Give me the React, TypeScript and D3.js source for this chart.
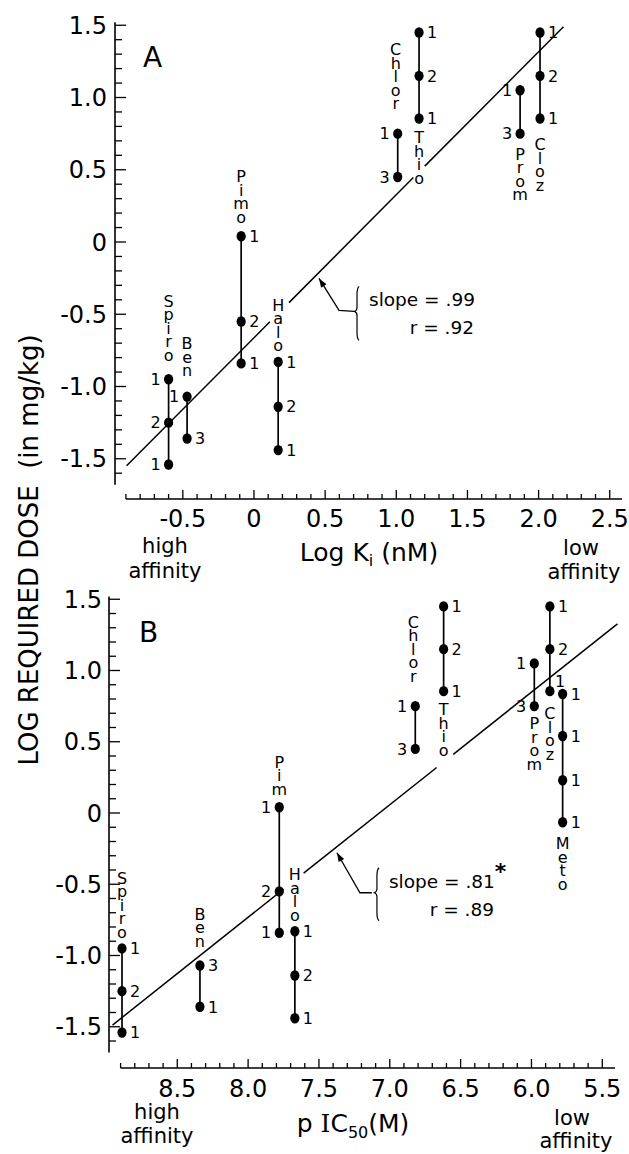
import React, { useEffect, useRef } from "react";
import * as d3 from "d3";

// drugs as labelled in each panel
const drugsA = ["Spiro", "Ben", "Pimo", "Halo", "Chlor", "Thio", "Prom", "Cloz"];
const drugsB = ["Spiro", "Ben", "Pim", "Halo", "Chlor", "Thio", "Prom", "Cloz", "Meto"];

// x values: log Ki (nM) for panel A, pIC50 (M) for panel B
const logKi = [-0.6, -0.47, -0.09, 0.17, 1.01, 1.16, 1.87, 2.01];
const pIC50 = [8.89, 8.34, 7.78, 7.67, 6.82, 6.62, 5.98, 5.87, 5.78];

// log required dose (mg/kg), top to bottom, same order as drugsB
const doses = [
	[-0.95, -1.25, -1.54],
	[-1.07, -1.36],
	[0.04, -0.55, -0.84],
	[-0.83, -1.14, -1.44],
	[0.75, 0.45],
	[1.45, 1.15, 0.855],
	[1.05, 0.75],
	[1.45, 1.15, 0.855],
	[0.835, 0.54, 0.23, -0.065],
];

// number of studies behind each dose
const countsA = [["1", "2", "1"], ["1", "3"], ["1", "2", "1"], ["1", "2", "1"], ["1", "3"], ["1", "2", "1"], ["1", "3"], ["1", "2", "1"]];
const countsB = [["1", "2", "1"], ["3", "1"], ["1", "2", "1"], ["1", "2", "1"], ["1", "3"], ["1", "2", "1"], ["1", "3"], ["1", "2", "1"], ["1", "1", "1", "1"]];

// regression lines as drawn
const fitA = { slope: 0.99, intercept: -0.663, from: -0.895, to: 2.175 };
const fitB = { slope: -0.79, intercept: 5.588, from: 8.957, to: 5.393 };
const statsA = { slope: ".99", r: ".92", star: "" };
const statsB = { slope: ".81", r: ".89", star: "*" };

// tick labels
const doseTicks = [1.5, 1.0, 0.5, 0, -0.5, -1.0, -1.5];
const doseTickText = ["1.5", "1.0", "0.5", "0", "-0.5", "-1.0", "-1.5"];
const kiTicks = [-0.5, 0, 0.5, 1.0, 1.5, 2.0, 2.5];
const kiTickText = ["-0.5", "0", "0.5", "1.0", "1.5", "2.0", "2.5"];
const icTicks = [8.5, 8.0, 7.5, 7.0, 6.5, 6.0, 5.5];
const icTickText = ["8.5", "8.0", "7.5", "7.0", "6.5", "6.0", "5.5"];

// ---- layout (positions only) ----
const FONT = "'DejaVu Sans', sans-serif";

const sidesA = [["L", "L", "L"], ["L", "R"], ["R", "R", "R"], ["R", "R", "R"], ["L", "L"], ["R", "R", "R"], ["L", "L"], ["R", "R", "R"]];
const sidesB = [["R", "R", "R"], ["R", "R"], ["L", "L", "L"], ["R", "R", "R"], ["L", "L"], ["R", "R", "R"], ["L", "L"], ["R", "R", "U"], ["R", "R", "R", "R"]];
const namesAtA = [["above", 12], ["above", 14], ["above", 7], ["above", 4], ["above", 18], ["below", 6], ["below", 7], ["below", 13]];
const namesAtB = [["above", 4], ["above", 12], ["above", 6], ["above", 4], ["above", 18], ["below", 5], ["below", 4], ["below", 9], ["below", 8]];

const panelA = {
	letter: "A",
	letterPos: [143, 67],
	x: d3.scaleLinear().domain([-0.9, 2.5]).range([125.9, 609.75]),
	y: d3.scaleLinear().domain([-1.5, 1.5]).range([458.75, 25.25]),
	yAxisX: 115,
	yAxisEnds: [1.52, -1.68],
	yLabelX: 107,
	xAxisY: 499,
	xAxisEnds: [-0.9, 2.586],
	minor: d3.range(-9, 26).map((i) => i / 10),
	xLabelY: 527,
	xTicks: kiTicks,
	xTickText: kiTickText,
	xs: logKi,
	names: drugsA,
	counts: countsA,
	sides: sidesA,
	namesAt: namesAtA,
	fit: fitA,
	gaps: [[0.112, 0.246], [1.12, 1.2]],
	arrowAt: 0.45,
	arrow: { tip: [1, 5], bend: [20, 32], end: [35, 33], brace: [38, 8, 62] },
	stats: statsA,
};

const panelB = {
	letter: "B",
	letterPos: [139, 642],
	x: d3.scaleLinear().domain([8.9, 5.5]).range([120.6, 602.3]),
	y: d3.scaleLinear().domain([-1.5, 1.5]).range([1026.75, 599.25]),
	yAxisX: 109,
	yAxisEnds: [1.52, -1.68],
	yLabelX: 102,
	xAxisY: 1068,
	xAxisEnds: [8.9, 5.41],
	minor: d3.range(55, 90).map((i) => i / 10),
	xLabelY: 1097,
	xTicks: icTicks,
	xTickText: icTickText,
	xs: pIC50,
	names: drugsB,
	counts: countsB,
	sides: sidesB,
	namesAt: namesAtB,
	fit: fitB,
	gaps: [[7.75, 7.608], [6.669, 6.552]],
	arrowAt: 7.373,
	arrow: { tip: [0, 6], bend: [23, 40], end: [35, 40], brace: [40, 15, 68] },
	stats: statsB,
};

function drawPanel(svg, p) {
	const g = svg.append("g");
	const x = p.x,
		y = p.y;

	// y axis
	g.append("line")
		.attr("x1", p.yAxisX).attr("x2", p.yAxisX)
		.attr("y1", y(p.yAxisEnds[0])).attr("y2", y(p.yAxisEnds[1]))
		.attr("stroke", "#000").attr("stroke-width", 1.6);
	g.selectAll(".ytick")
		.data(d3.range(-16, 16).map((i) => i / 10))
		.enter()
		.append("line")
		.attr("x1", p.yAxisX)
		.attr("x2", (d) => p.yAxisX + (Math.abs(Math.round(d * 10)) % 5 === 0 ? 11 : 7))
		.attr("y1", (d) => y(d)).attr("y2", (d) => y(d))
		.attr("stroke", "#000").attr("stroke-width", 1.3);
	g.selectAll(".ylab")
		.data(doseTicks)
		.enter()
		.append("text")
		.attr("x", p.yLabelX)
		.attr("y", (d) => y(d))
		.attr("dy", "0.36em")
		.attr("text-anchor", "end")
		.attr("font-size", 24)
		.text((d, i) => doseTickText[i]);

	// x axis
	g.append("line")
		.attr("x1", x(p.xAxisEnds[0])).attr("x2", x(p.xAxisEnds[1]))
		.attr("y1", p.xAxisY).attr("y2", p.xAxisY)
		.attr("stroke", "#000").attr("stroke-width", 1.6);
	g.selectAll(".xtick")
		.data(p.minor)
		.enter()
		.append("line")
		.attr("x1", (d) => x(d)).attr("x2", (d) => x(d))
		.attr("y1", p.xAxisY)
		.attr("y2", (d) => p.xAxisY - (Math.abs(Math.round(d * 10)) % 5 === 0 ? 9 : 5))
		.attr("stroke", "#000").attr("stroke-width", 1.3);
	g.selectAll(".xlab")
		.data(p.xTicks)
		.enter()
		.append("text")
		.attr("x", (d) => x(d))
		.attr("y", p.xLabelY)
		.attr("text-anchor", "middle")
		.attr("font-size", 24)
		.text((d, i) => p.xTickText[i]);

	// regression line, broken where it runs into labels
	const edges = [p.fit.from, ...p.gaps.flat(), p.fit.to];
	const fitLine = d3.line().x((d) => x(d)).y((d) => y(p.fit.intercept + p.fit.slope * d));
	for (let i = 0; i < edges.length; i += 2) {
		g.append("path")
			.attr("d", fitLine([edges[i], edges[i + 1]]))
			.attr("fill", "none").attr("stroke", "#000").attr("stroke-width", 1.5);
	}

	// drug columns
	p.names.forEach((name, k) => {
		const cx = x(p.xs[k]);
		const vals = doses[k];
		const top = y(vals[0]),
			bot = y(vals[vals.length - 1]);
		g.append("line")
			.attr("x1", cx).attr("x2", cx).attr("y1", top).attr("y2", bot)
			.attr("stroke", "#000").attr("stroke-width", 1.7);
		vals.forEach((v, j) => {
			const cy = y(v);
			g.append("ellipse").attr("cx", cx).attr("cy", cy).attr("rx", 4.6).attr("ry", 5.2).attr("fill", "#000");
			const side = p.sides[k][j];
			const t = g.append("text").attr("font-size", 16).text(p.counts[k][j]);
			if (side === "L") t.attr("x", cx - 8).attr("y", cy).attr("dy", "0.36em").attr("text-anchor", "end");
			else if (side === "R") t.attr("x", cx + 8).attr("y", cy).attr("dy", "0.36em").attr("text-anchor", "start");
			else t.attr("x", cx + 5).attr("y", cy - 10).attr("dy", "0.36em").attr("text-anchor", "start");
		});
		// vertical name written top to bottom with upright letters
		const [where, gap] = p.namesAt[k];
		const nt = g.append("text")
			.attr("x", cx - (k === 4 ? 2 : 0))
			.attr("font-size", 16)
			.attr("letter-spacing", -5.5)
			.style("writing-mode", "vertical-rl")
			.style("text-orientation", "upright")
			.text(name);
		if (where === "above") nt.attr("y", top - 5 - gap - 3).attr("text-anchor", "end");
		else nt.attr("y", bot + 5 + gap - 1).attr("text-anchor", "start");
	});

	// arrow pointing at the line, brace and stats
	const lx = x(p.arrowAt),
		ly = y(p.fit.intercept + p.fit.slope * p.arrowAt);
	const tip = [lx + p.arrow.tip[0], ly + p.arrow.tip[1]];
	const bend = [tip[0] + p.arrow.bend[0], tip[1] + p.arrow.bend[1]];
	const end = [tip[0] + p.arrow.end[0], tip[1] + p.arrow.end[1]];
	g.append("path")
		.attr("d", `M${tip[0]},${tip[1]} L${bend[0]},${bend[1]} L${end[0]},${end[1]}`)
		.attr("fill", "none").attr("stroke", "#000").attr("stroke-width", 1.3);
	const ang = Math.atan2(bend[1] - tip[1], bend[0] - tip[0]);
	const hl = 9,
		hw = 3.2;
	const bx = tip[0] + hl * Math.cos(ang),
		by = tip[1] + hl * Math.sin(ang);
	g.append("path")
		.attr("d", `M${tip[0]},${tip[1]} L${bx - hw * Math.sin(ang)},${by + hw * Math.cos(ang)} L${bx + hw * Math.sin(ang)},${by - hw * Math.cos(ang)} Z`)
		.attr("fill", "#000");
	const brx = tip[0] + p.arrow.brace[0],
		bt = tip[1] + p.arrow.brace[1],
		bb = tip[1] + p.arrow.brace[2],
		bm = end[1];
	g.append("path")
		.attr("d", `M${brx + 2},${bt} Q${brx},${bt + 2} ${brx},${bt + 8} L${brx},${bm - 4} Q${brx},${bm - 1} ${brx - 2.5},${bm} Q${brx},${bm + 1} ${brx},${bm + 4} L${brx},${bb - 8} Q${brx},${bb - 2} ${brx + 2},${bb}`)
		.attr("fill", "none").attr("stroke", "#000").attr("stroke-width", 1.2);
	const st = g.append("text").attr("x", brx + 12).attr("y", bm - 5).attr("font-size", 18.5).text(`slope = ${p.stats.slope}`);
	if (p.stats.star) st.append("tspan").attr("dy", -9).attr("font-size", 22).attr("font-weight", "bold").text(p.stats.star);
	g.append("text").attr("x", brx + 117).attr("y", bm + 23).attr("text-anchor", "end").attr("font-size", 18.5).text(`r = ${p.stats.r}`);

	g.append("text").attr("x", p.letterPos[0]).attr("y", p.letterPos[1]).attr("font-size", 28).text(p.letter);
}

export default function App() {
	const ref = useRef(null);
	useEffect(() => {
		const svg = d3.select(ref.current);
		svg.selectAll("*").remove();
		svg.attr("font-family", FONT).attr("fill", "#000");

		drawPanel(svg, panelA);
		drawPanel(svg, panelB);

		// panel A axis caption
		svg.append("text").attr("x", 165).attr("y", 553).attr("text-anchor", "middle").attr("font-size", 21).text("high");
		svg.append("text").attr("x", 165).attr("y", 578).attr("text-anchor", "middle").attr("font-size", 21).text("affinity");
		svg.append("text").attr("x", 581).attr("y", 555).attr("text-anchor", "middle").attr("font-size", 21).text("low");
		svg.append("text").attr("x", 584).attr("y", 579).attr("text-anchor", "middle").attr("font-size", 21).text("affinity");
		const ki = svg.append("text").attr("x", 369).attr("y", 561).attr("text-anchor", "middle").attr("font-size", 25);
		ki.append("tspan").text("Log K");
		ki.append("tspan").attr("font-size", 16).attr("dy", 5).text("i");
		ki.append("tspan").attr("dy", -5).text(" (nM)");

		// panel B axis caption
		svg.append("text").attr("x", 157).attr("y", 1119).attr("text-anchor", "middle").attr("font-size", 21).text("high");
		svg.append("text").attr("x", 157).attr("y", 1143).attr("text-anchor", "middle").attr("font-size", 21).text("affinity");
		svg.append("text").attr("x", 572).attr("y", 1125).attr("text-anchor", "middle").attr("font-size", 21).text("low");
		svg.append("text").attr("x", 576).attr("y", 1148).attr("text-anchor", "middle").attr("font-size", 21).text("affinity");
		const ic = svg.append("text").attr("x", 353).attr("y", 1132).attr("text-anchor", "middle").attr("font-size", 25);
		ic.append("tspan").text("p ");
		ic.append("tspan").attr("font-family", "'DejaVu Serif', serif").text("I");
		ic.append("tspan").text("C");
		ic.append("tspan").attr("font-size", 16).attr("dy", 6).text("50");
		ic.append("tspan").attr("dy", -6).text("(M)");

		// shared y title
		svg.append("text")
			.attr("transform", "translate(38,550) rotate(-90)")
			.attr("text-anchor", "middle")
			.attr("font-size", 26)
			.attr("xml:space", "preserve")
			.text("LOG REQUIRED DOSE  (in mg/kg)");
	}, []);
	return (
		<svg
			ref={ref}
			width={629}
			height={1154}
			style={{ position: "absolute", left: 0, top: 0, background: "#fff" }}
		/>
	);
}
